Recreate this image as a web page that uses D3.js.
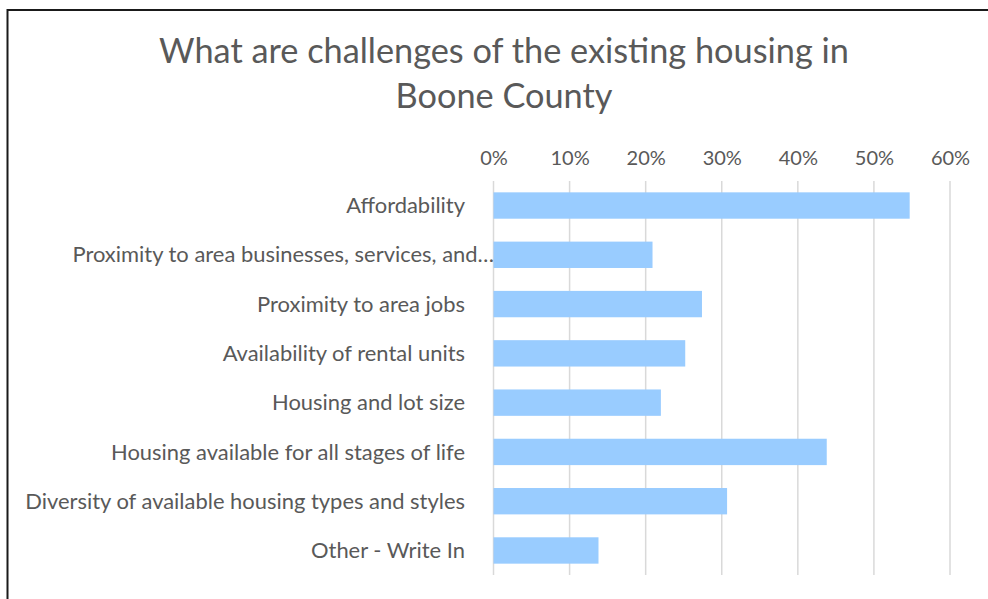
<!DOCTYPE html>
<html><head><meta charset="utf-8">
<script src="https://cdn.jsdelivr.net/npm/d3@7"></script>
<style>html,body{margin:0;padding:0;background:#fff;}svg{display:block;}</style>
</head><body>
<script>
const categories = [
  "Affordability",
  "Proximity to area businesses, services, and\u2026",
  "Proximity to area jobs",
  "Availability of rental units",
  "Housing and lot size",
  "Housing available for all stages of life",
  "Diversity of available housing types and styles",
  "Other - Write In"
];
const values = [0.547, 0.209, 0.274, 0.252, 0.220, 0.438, 0.307, 0.138];
const tickValues = [0, 0.1, 0.2, 0.3, 0.4, 0.5, 0.6];
const titleLines = ["What are challenges of the existing housing in", "Boone County"];

const W = 988, H = 599;
const FONT = "Lato, 'Open Sans', sans-serif";
const svg = d3.select("body").append("svg").attr("width", W).attr("height", H);

svg.append("rect").attr("x", 7.5).attr("y", 10).attr("width", 1000).attr("height", 700)
  .attr("fill", "#fff").attr("stroke", "#1a1a1a").attr("stroke-width", 2);

const x = d3.scaleLinear().domain([0, 0.6]).range([493.5, 950]);
const y = d3.scaleBand().domain(categories).range([181, 575]).paddingInner(0.465).paddingOuter(0.23);

// gridlines
svg.append("g").selectAll("line").data(tickValues).join("line")
  .attr("x1", d => x(d)).attr("x2", d => x(d)).attr("y1", 181).attr("y2", 575)
  .attr("stroke", "#d9d9d9").attr("stroke-width", 1.5);

// top axis
const axis = svg.append("g").attr("transform", "translate(0,165)")
  .call(d3.axisTop(x).tickValues(tickValues).tickFormat(d3.format(".0%")).tickSize(0).tickPadding(0));
axis.select(".domain").remove();
axis.selectAll("text").attr("font-family", FONT).attr("font-size", 19).attr("fill", "#595959");

// bars
svg.append("g").selectAll("rect").data(values).join("rect")
  .attr("x", x(0)).attr("y", (d, i) => y(categories[i]))
  .attr("width", d => x(d) - x(0)).attr("height", y.bandwidth())
  .attr("fill", "#99ccff");

// labels
const lab = svg.append("g").selectAll("text").data(categories).join("text")
  .attr("x", (d, i) => i === 1 ? 494 : 465).attr("y", d => y(d) + y.bandwidth() / 2)
  .attr("dy", "0.35em").attr("text-anchor", "end")
  .attr("font-family", FONT).attr("font-size", 19).attr("fill", "#595959")
  .text(d => d);
// fit the longest label width to reference (~440px)
const longest = lab.filter(d => d === categories[6]).node();
const lw = longest.getComputedTextLength();
const fs = 19 * 440 / lw;
lab.attr("font-size", fs);
axis.selectAll("text").attr("font-size", Math.min(fs, 20));

// title
const t = svg.append("g").selectAll("text").data(titleLines).join("text")
  .attr("x", 504).attr("y", (d, i) => 63 + i * 45).attr("text-anchor", "middle")
  .attr("font-family", FONT).attr("font-size", 32).attr("fill", "#595959").text(d => d);
const tw = t.filter((d, i) => i === 0).node().getComputedTextLength();
t.attr("font-size", 32 * 690 / tw);
</script>
</body></html>
